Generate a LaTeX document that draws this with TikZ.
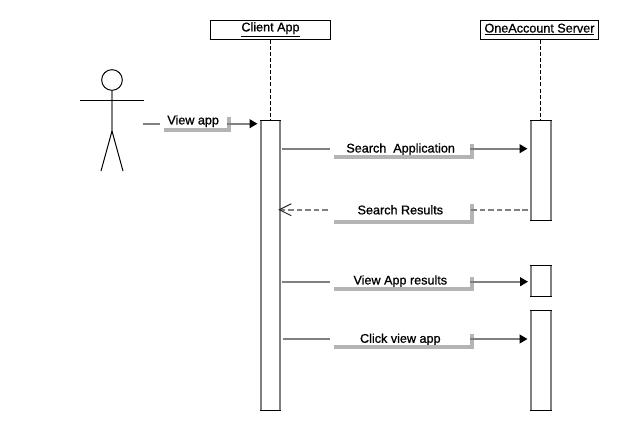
\documentclass[tikz,border=0pt]{standalone}
\usepackage{fontspec}
\newfontfamily\lblfont[FakeBold=0.9]{Liberation Sans}
\setmainfont{Liberation Sans}
\usetikzlibrary{arrows.meta}
\definecolor{edgegray}{HTML}{808080}
\definecolor{shadowgray}{HTML}{B4B4B4}
\tikzset{
  x=0.75pt,y=-0.75pt,
  lbl/.style={font=\lblfont\fontsize{9.45pt}{11pt}\selectfont,text=black},
  headbox/.style={draw=black,line width=0.75pt,fill=white,inner sep=0pt,minimum height=14.25pt,lbl},
  lifeline/.style={draw=black,line width=0.8pt,dash pattern=on 3pt off 1.6pt},
  actbox/.style={fill=white,inner sep=0pt,minimum width=14.6pt},
  actside/.style={draw=edgegray,line width=1.5pt},
  actend/.style={draw=black,line width=0.75pt},
  msgbox/.style={inner sep=0pt,text height=7pt,text depth=2pt,lbl},
  msgshadow/.style={draw=shadowgray,line width=2.7pt,line join=miter},
  conn/.style={draw=edgegray,line width=1.5pt},
  connhead/.style={conn,-{Triangle[length=6pt,width=6.5pt,color=black]}},
  dashconn/.style={conn,dash pattern=on 4.2pt off 2.2pt},
  backhead/.style={dashconn,-{Straight Barb[length=9pt,width=9pt,line width=0.7pt,color=black!85]}},
  stick/.style={draw=black,line width=0.75pt},
}
\begin{document}
\begin{tikzpicture}
\useasboundingbox[fill=white] (0,0) rectangle (622,430);

% head boxes
\node[headbox,minimum width=90pt] (client) at (270.5,29.5) {\raisebox{0.5pt}{\underline{Client App}}};
\node[headbox,minimum width=88.5pt] (server) at (539.5,29.5) {\raisebox{0.5pt}{\underline{OneAccount Server}}};

% activation bars
\node[actbox,minimum width=14.25pt,minimum height=217.5pt] (A) at (270.5,265.5) {};
\node[actbox,minimum height=75pt] (S1) at (541,170.5) {};
\node[actbox,minimum height=23.25pt] (S2) at (541,281) {};
\node[actbox,minimum height=75pt] (S3) at (541,360.5) {};
\foreach \b in {A,S1,S2,S3}{
  \draw[actside] (\b.north west) -- (\b.south west);
  \draw[actside] (\b.north east) -- (\b.south east);
  \draw[actend] ([xshift=-0.75pt]\b.north west) -- ([xshift=0.75pt]\b.north east);
  \draw[actend] ([xshift=-0.75pt]\b.south west) -- ([xshift=0.75pt]\b.south east);
}

% lifelines
\draw[lifeline] (client.south) -- (A.north);
\draw[lifeline] ([xshift=-0.375pt]server.south -| S1.north) -- ([xshift=-0.375pt]S1.north);

% actor
\node[circle,draw=black,line width=0.75pt,fill=white,minimum size=15.5pt,inner sep=0pt] (head) at (112,80) {};
\coordinate (hip) at (112,131);
\coordinate (armL) at (80,100.5);
\coordinate (armR) at (144,100.5);
\coordinate (footL) at (101,171);
\coordinate (footR) at (123,171);
\draw[conn] (head.south) -- (hip);
\draw[stick] (armL) -- (armR);
\draw[stick] (hip) -- (footL);
\draw[stick] (hip) -- (footR);

% message labels
\node[msgbox,minimum width=48.75pt,minimum height=9.4pt] (m0) at (196.5,123.25) {\kern-5pt\raisebox{1.6pt}{View app}};
\node[msgbox,minimum width=103.5pt,minimum height=9.75pt] (m1) at (403,150.5) {\kern-3.5pt\raisebox{1pt}{Search\ \ Application}};
\node[msgbox,minimum width=103.5pt,minimum height=13.5pt] (m2) at (403,213) {\kern-4pt\raisebox{1.5pt}{Search Results}};
\node[msgbox,minimum width=103.5pt,minimum height=9pt] (m3) at (403,283) {\kern-4pt\raisebox{1.4pt}{View App results}};
\node[msgbox,minimum width=103.5pt,minimum height=9.75pt] (m4) at (403,340.5) {\kern-4pt\raisebox{0.8pt}{Click view app}};
\foreach \m in {m0,m1,m2,m3,m4}{
  \draw[msgshadow] (\m.south west) -- (\m.south east) -- (\m.north east);
}

% connector heights
\coordinate (y0) at (0,123.7);
\coordinate (y1) at (0,148.7);
\coordinate (y2) at (0,209.7);
\coordinate (y3) at (0,281.7);
\coordinate (y4) at (0,339);
\coordinate (hand) at (143,123.7);

% connectors
\draw[conn,shorten >=3pt] (hand) -- (m0.west |- y0);
\draw[connhead,shorten <=-1.5pt,shorten >=2.4pt] (m0.east |- y0) -- (A.west |- y0);
\draw[conn,shorten <=1.5pt,shorten >=3pt] (A.east |- y1) -- (m1.west |- y1);
\draw[connhead,shorten <=-1.5pt,shorten >=2.6pt] (m1.east |- y1) -- (S1.west |- y1);
\draw[dashconn,shorten <=2.2pt,shorten >=-1.5pt] (S1.west |- y2) -- (m2.east |- y2);
\draw[backhead,shorten <=4.5pt,shorten >=-1.5pt] (m2.west |- y2) -- (A.east |- y2);
\draw[conn,shorten <=1pt,shorten >=3pt] (A.east |- y3) -- (m3.west |- y3);
\draw[connhead,shorten <=-1.5pt,shorten >=2.2pt] (m3.east |- y3) -- (S2.west |- y3);
\draw[conn,shorten <=2.2pt,shorten >=3pt] (A.east |- y4) -- (m4.west |- y4);
\draw[connhead,shorten <=-1.5pt,shorten >=2.6pt] (m4.east |- y4) -- (S3.west |- y4);
\end{tikzpicture}
\end{document}
